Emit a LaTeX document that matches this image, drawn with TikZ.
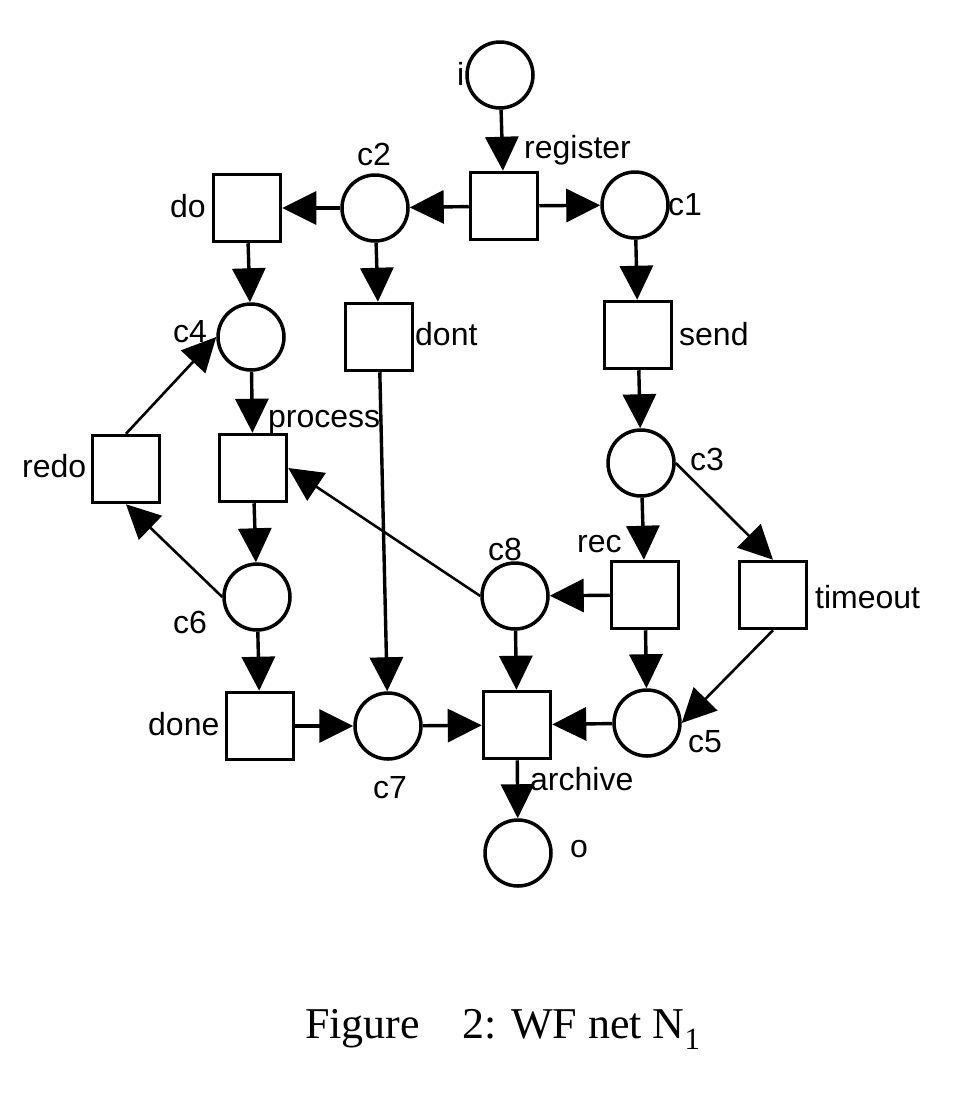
\documentclass[tikz,border=0pt]{standalone}
\usepackage{fontspec}
\setmainfont{Liberation Serif}
\newfontfamily\lblfont{Liberation Sans}
\usetikzlibrary{arrows.meta}
\begin{document}
\begin{tikzpicture}[x=1pt,y=-1pt,
  place/.style={circle,draw,line width=3.5pt,minimum size=66pt,inner sep=0pt},
  trans/.style={rectangle,draw,line width=3.5pt,minimum size=67pt,inner sep=0pt},
  arc/.style={line width=3.4pt,-{Triangle[length=34pt,width=33pt]}},
  thinarc/.style={arc,line width=2.6pt},
  lbl/.style={anchor=base west,inner sep=0pt,font=\lblfont\fontsize{32}{36}\selectfont}]
\useasboundingbox (0,0) rectangle (976,1112);
% places
\node[place] (i) at (500,75) {};
\node[place] (c2) at (375,208) {};
\node[place] (c1) at (635,205) {};
\node[place] (c4) at (251,337) {};
\node[place] (c3) at (641,463) {};
\node[place] (c8) at (515,596) {};
\node[place] (c6) at (257,597) {};
\node[place] (c7) at (388,726) {};
\node[place] (c5) at (647,723) {};
\node[place] (o) at (518,853) {};
% transitions
\node[trans] (register) at (504,206) {};
\node[trans] (do) at (247,208) {};
\node[trans] (dont) at (379,337) {};
\node[trans] (send) at (638,335) {};
\node[trans] (redo) at (126,469) {};
\node[trans] (process) at (253,468) {};
\node[trans] (rec) at (645,595) {};
\node[trans] (timeout) at (773,595) {};
\node[trans] (done) at (260,726) {};
\node[trans] (archive) at (517,725) {};
% labels
\node[lbl] (li) at (457,85) {i};
\node[lbl] (lregister) at (524,158) {register};
\node[lbl] (lc2) at (357,165) {c2};
\node[lbl] (lc1) at (668,215) {c1};
\node[lbl] (ldo) at (170,217) {do};
\node[lbl] (lc4) at (173,342) {c4};
\node[lbl] (ldont) at (415,345) {dont};
\node[lbl] (lsend) at (679,345) {send};
\node[lbl] (lprocess) at (268,427) {process};
\node[lbl] (lc3) at (690,470) {c3};
\node[lbl] (lrec) at (577,552) {rec};
\node[lbl] (lc8) at (488,560) {c8};
\node[lbl] (lredo) at (22,477) {redo};
\node[lbl] (ltimeout) at (815,608) {timeout};
\node[lbl] (lc6) at (173,633) {c6};
\node[lbl] (ldone) at (148,735) {done};
\node[lbl] (lc7) at (373,798) {c7};
\node[lbl] (larchive) at (530,790) {archive};
\node[lbl] (lc5) at (688,752) {c5};
\node[lbl] (lo) at (570,857) {o};
% caption
\node[anchor=base west,inner sep=0pt,font=\fontsize{44}{50}\selectfont] (cap1) at (305,1038) {Figure};
\node[anchor=base west,inner sep=0pt,font=\fontsize{44}{50}\selectfont] (cap2) at (462,1038) {2: WF net N\textsubscript{1}};
% arcs
\draw[arc] (i) -- (register);
\draw[arc] (register) -- (c2);
\draw[arc] (register) -- (c1);
\draw[arc] (c2) -- (do);
\draw[arc] (c2) -- (dont);
\draw[arc] (c1) -- (send);
\draw[arc] (do) -- (c4);
\draw[arc] (c4) -- (process);
\draw[thinarc] (redo.north) -- (c4.west);
\draw[arc] (send) -- (c3);
\draw[arc] (c3) -- (rec);
\draw[thinarc] (c3.east) -- (timeout.north);
\draw[arc] (process) -- (c6);
\draw[thinarc] (c6.west) -- (redo.south);
\draw[arc] (c6) -- (done);
\draw[arc] (done) -- (c7);
\draw[arc] (dont) -- (c7);
\draw[arc] (c7) -- (archive);
\draw[arc] (c8) -- (archive);
\draw[thinarc] (c8.west) -- (process.east);
\draw[arc] (rec) -- (c8);
\draw[arc] (rec) -- (c5);
\draw[thinarc] (timeout.south) -- (c5.east);
\draw[arc] (c5) -- (archive);
\draw[arc] (archive) -- (o);
\end{tikzpicture}
\end{document}
